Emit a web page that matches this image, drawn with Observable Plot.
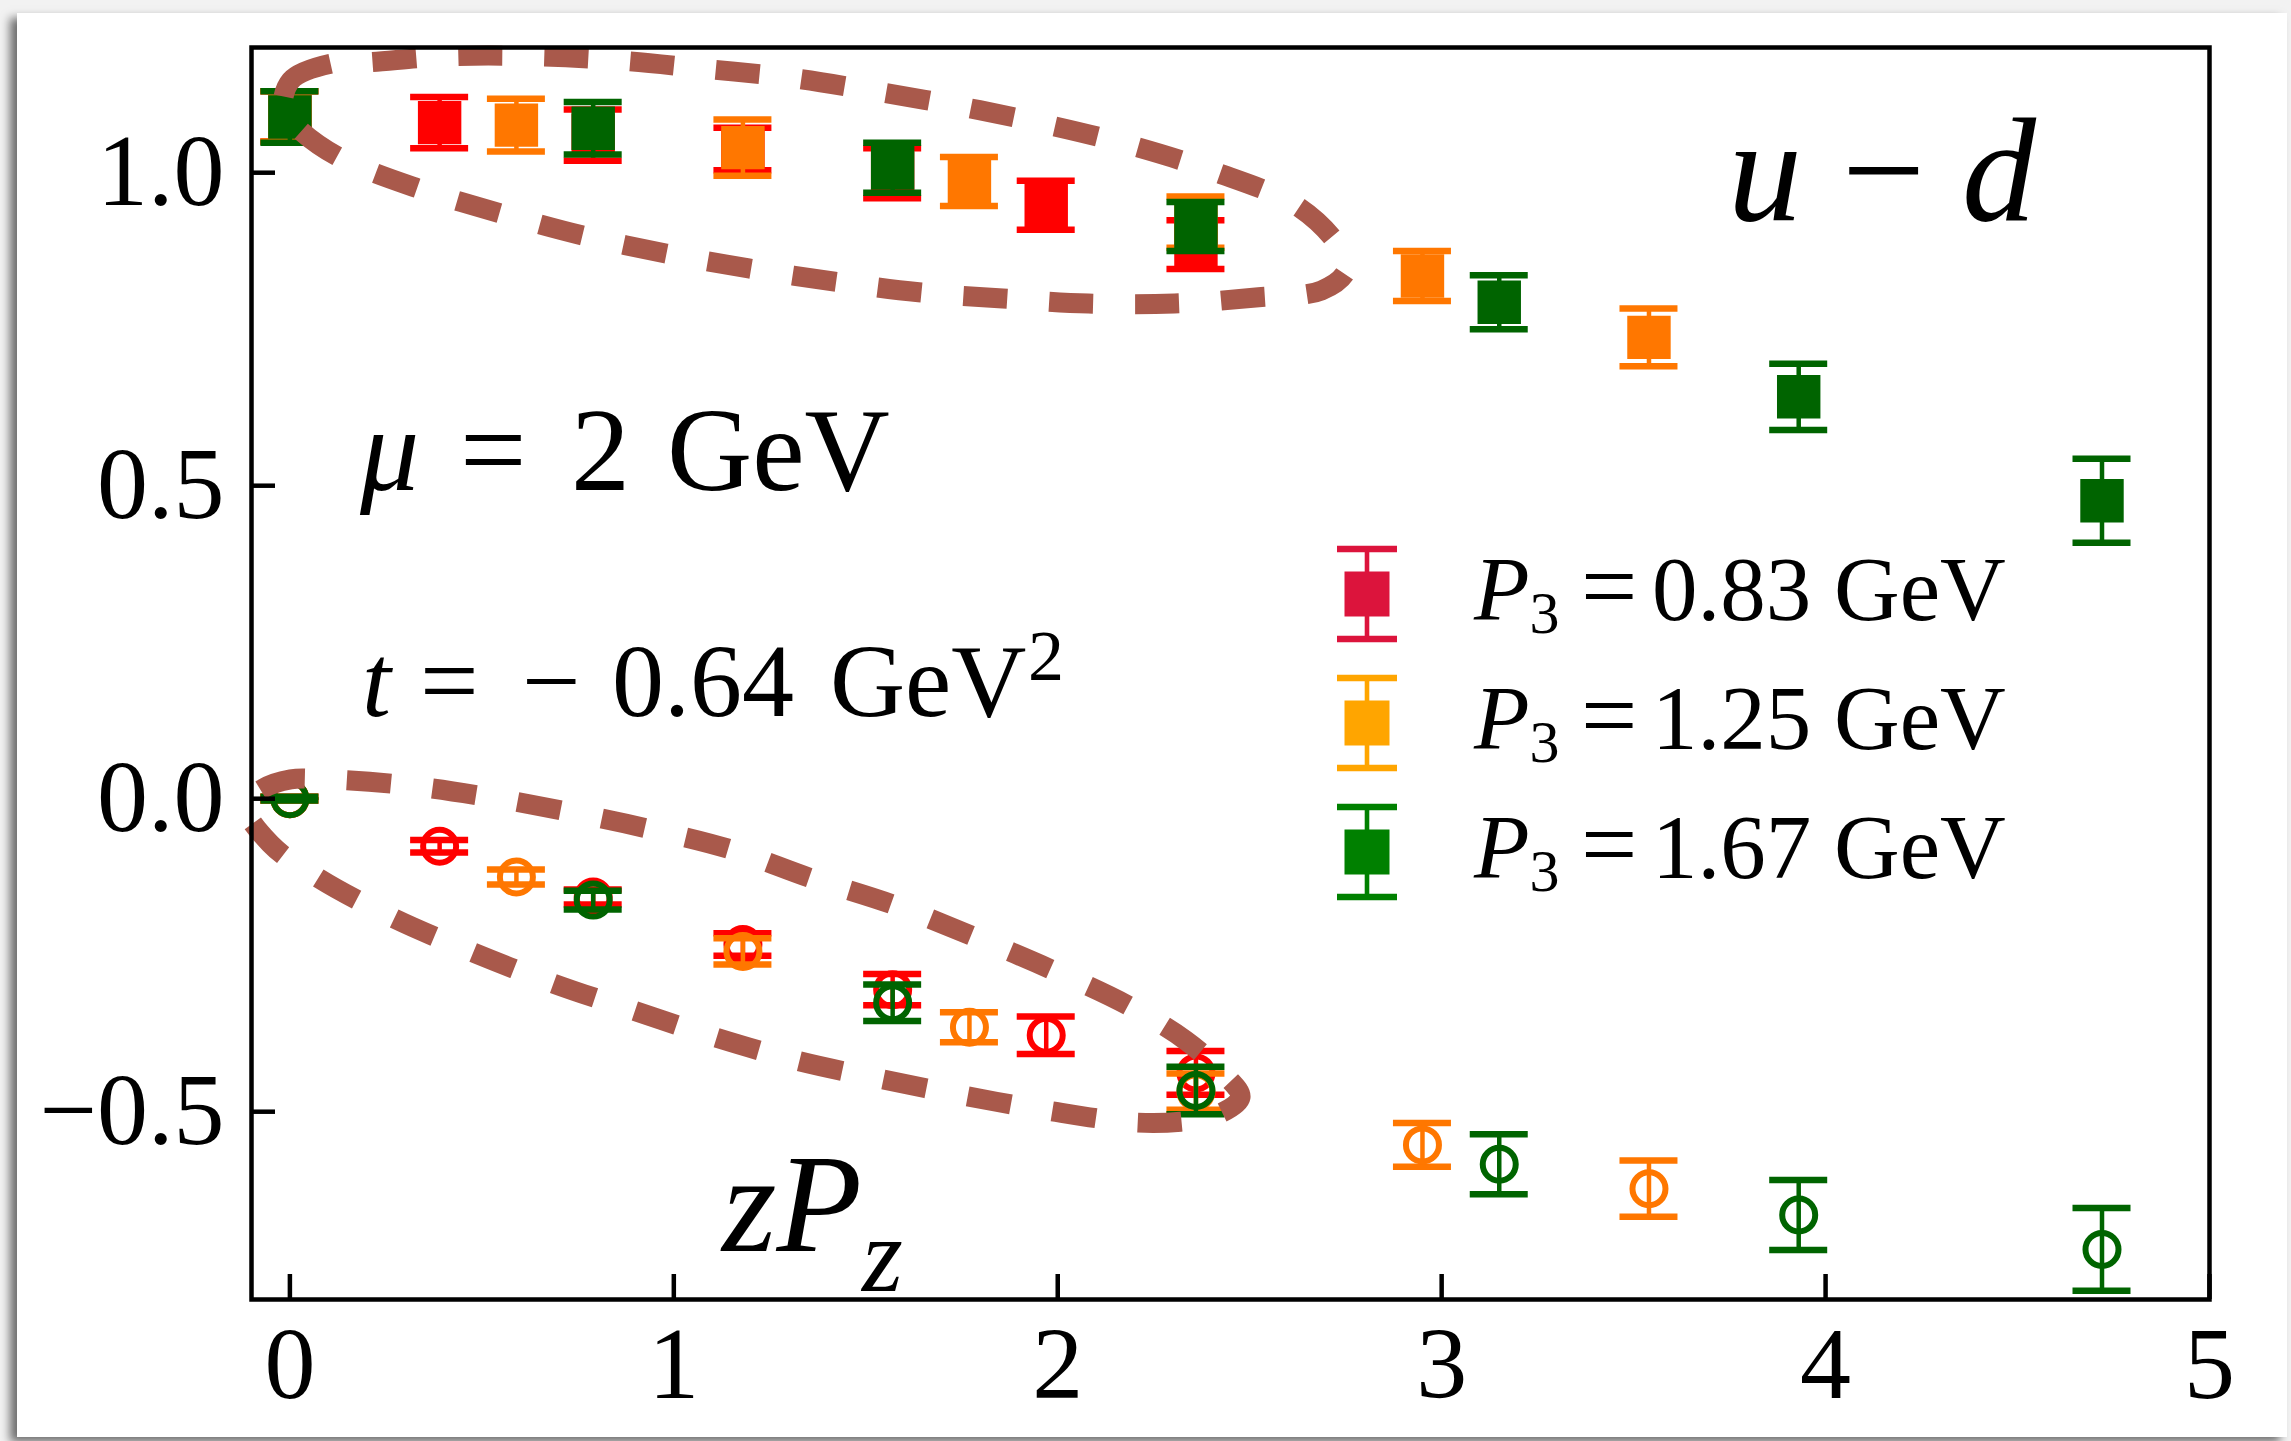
<!DOCTYPE html>
<html>
<head>
<meta charset="utf-8">
<script src="https://cdn.jsdelivr.net/npm/d3@7"></script>
<script src="https://cdn.jsdelivr.net/npm/@observablehq/plot@0.6"></script>
<style>
  html, body { margin: 0; padding: 0; width: 2291px; height: 1441px; overflow: hidden; background: #f2f2f2; }
  #card { position: absolute; left: 17px; top: 13px; width: 2270px; height: 1424px; background: #fff;
          box-shadow: -7px 5px 9px rgba(0,0,0,0.55); }
  #chart { position: absolute; left: 0; top: 0; }
</style>
</head>
<body>
<div id="card"></div>
<div id="chart"></div>
<script>
// zP_z positions per momentum
const xRed    = [0, 0.39, 0.79, 1.18, 1.57, 1.97, 2.36];
const xOrange = [0, 0.59, 1.18, 1.77, 2.36, 2.95, 3.54];
const xGreen  = [0, 0.79, 1.57, 2.36, 3.15, 3.93, 4.72];

// upper branch (filled squares) and its errors
const yRedUpper    = [1.090, 1.080, 1.060, 1.038, 0.999, 0.948, 0.885];
const eRedUpper    = [0.040, 0.041, 0.041, 0.034, 0.040, 0.039, 0.039];
const yOrangeUpper = [1.090, 1.076, 1.040, 0.986, 0.921, 0.835, 0.737];
const eOrangeUpper = [0.040, 0.042, 0.045, 0.039, 0.041, 0.040, 0.046];
const yGreenUpper  = [1.089, 1.071, 1.008, 0.914, 0.793, 0.642, 0.476];
const eGreenUpper  = [0.041, 0.042, 0.040, 0.039, 0.043, 0.053, 0.067];

// lower branch (open circles) and its errors
const yRedLower    = [0.000, -0.076, -0.157, -0.233, -0.305, -0.378, -0.438];
const eRedLower    = [0.003, 0.010, 0.012, 0.018, 0.025, 0.030, 0.035];
const yOrangeLower = [0.000, -0.125, -0.244, -0.365, -0.468, -0.553, -0.623];
const eOrangeLower = [0.003, 0.012, 0.021, 0.024, 0.029, 0.035, 0.045];
const yGreenLower  = [0.000, -0.162, -0.326, -0.466, -0.584, -0.665, -0.720];
const eGreenLower  = [0.003, 0.015, 0.029, 0.038, 0.048, 0.056, 0.066];

const momentumLabels = ["0.83", "1.25", "1.67"];
const xTicks = [0, 1, 2, 3, 4, 5];
const yTicks = [-0.5, 0, 0.5, 1.0];

// hand-drawn loops around the small-zP_z points
const upperLoop = [
  [-0.017, 1.099], [0.002, 1.147], [0.106, 1.174], [0.194, 1.176], [0.416, 1.186], [0.637, 1.186],
  [0.862, 1.179], [1.081, 1.166], [1.300, 1.152], [1.516, 1.131], [1.737, 1.107], [1.956, 1.079],
  [2.170, 1.047], [2.406, 1.002], [2.630, 0.944], [2.739, 0.876], [2.752, 0.844], [2.687, 0.812],
  [2.523, 0.801], [2.304, 0.791], [2.080, 0.791], [1.857, 0.799], [1.638, 0.809], [1.419, 0.826],
  [1.195, 0.847], [0.979, 0.871], [0.760, 0.900], [0.549, 0.935], [0.333, 0.975], [0.130, 1.024],
  [0.028, 1.067]
];
const lowerLoop = [
  [-0.116, -0.011], [-0.071, 0.016], [0.002, 0.031], [0.062, 0.032], [0.280, 0.023], [0.504, 0.004],
  [0.718, -0.020], [0.934, -0.048], [1.148, -0.081], [1.357, -0.127], [1.570, -0.169], [1.776, -0.219],
  [1.984, -0.273], [2.182, -0.330], [2.333, -0.386], [2.437, -0.442], [2.476, -0.477], [2.411, -0.506],
  [2.320, -0.516], [2.195, -0.517], [1.971, -0.498], [1.752, -0.474], [1.533, -0.447], [1.317, -0.418],
  [1.101, -0.380], [0.893, -0.338], [0.685, -0.295], [0.479, -0.246], [0.267, -0.190], [0.072, -0.126],
  [-0.051, -0.072]
];

const series = [
  {x: xRed,    yu: yRedUpper,    eu: eRedUpper,    yl: yRedLower,    el: eRedLower,    color: "#ff0000", key: "#dc143c"},
  {x: xOrange, yu: yOrangeUpper, eu: eOrangeUpper, yl: yOrangeLower, el: eOrangeLower, color: "#ff7700", key: "#ffa500"},
  {x: xGreen,  yu: yGreenUpper,  eu: eGreenUpper,  yl: yGreenLower,  el: eGreenLower,  color: "#006400", key: "#008000"}
];

const W = 2291, H = 1441;
const M = {left: 251, right: 82, top: 47, bottom: 142};
const frameW = W - M.left - M.right, frameH = H - M.top - M.bottom;
const serif = "'Liberation Serif', 'DejaVu Serif', serif";

const marks = [];
for (const s of series) {
  const up = s.x.map((x, i) => ({x, y: s.yu[i], e: s.eu[i]}));
  const lo = s.x.map((x, i) => ({x, y: s.yl[i], e: s.el[i]}));
  for (const [rows, filled] of [[up, true], [lo, false]]) {
    marks.push(Plot.ruleX(rows, {x: "x", y1: d => d.y - d.e, y2: d => d.y + d.e, stroke: s.color, strokeWidth: 4.5}));
    for (const sign of [-1, 1]) {
      marks.push(Plot.ruleY(rows, {y: d => d.y + sign * d.e, x1: "x", x2: "x", insetLeft: -29, insetRight: -29,
                                    stroke: s.color, strokeWidth: 6.5}));
    }
    marks.push(filled
      ? Plot.dot(rows, {x: "x", y: "y", symbol: "square", r: 24.5, fill: s.color, stroke: "none"})
      : Plot.dot(rows, {x: "x", y: "y", r: 16.5, fill: "none", stroke: s.color, strokeWidth: 6}));
  }
}

const loopStyle = {x: d => d[0], y: d => d[1], curve: "catmull-rom-closed", stroke: "#a9594b",
                   strokeWidth: 20, strokeDasharray: "44,42", strokeLinecap: "butt"};

const svg = Plot.plot({
  width: W, height: H,
  marginLeft: M.left, marginRight: M.right, marginTop: M.top, marginBottom: M.bottom,
  style: {fontFamily: serif, color: "#000", background: "transparent", overflow: "visible"},
  x: {domain: [-0.1, 5]},
  y: {domain: [-0.8, 1.2]},
  marks: [
    ...marks,
    Plot.line(upperLoop, loopStyle),
    Plot.line(lowerLoop, loopStyle),
    Plot.tickY(yTicks, {y: d => d, insetRight: frameW - 24, stroke: "#000", strokeWidth: 4.5}),
    Plot.tickX(xTicks, {x: d => d, insetTop: frameH - 25, stroke: "#000", strokeWidth: 4.5}),
    Plot.axisX({ticks: xTicks, tickSize: 0, tickPadding: 26, tickFormat: "d", fontSize: 102, label: null}),
    Plot.axisY({ticks: yTicks, tickSize: 0, tickPadding: 27, tickFormat: d3.format(".1f"), fontSize: 102, label: null}),
    Plot.frame({stroke: "#000", strokeWidth: 4.5})
  ]
});
document.getElementById("chart").appendChild(svg);

// rich-text annotations and the legend
const g = d3.select(svg).append("g")
  .attr("font-family", serif).attr("fill", "#000").attr("text-anchor", "start");

function addText(x, y, size, parts) {
  const t = g.append("text").attr("x", x).attr("y", y).attr("font-size", size);
  for (const p of parts) {
    const ts = t.append("tspan").text(p.t);
    if (p.italic) ts.attr("font-style", "italic");
    if (p.x != null) ts.attr("x", p.x);
    if (p.dy != null) ts.attr("dy", p.dy);
    if (p.size != null) ts.attr("font-size", p.size);
  }
}

addText(1728, 220, 148, [{t: "u", italic: true}, {t: "\u2212", x: 1842}, {t: "d", italic: true, x: 1962}]);
addText(360, 490, 118, [{t: "\u03bc", italic: true}, {t: "=", x: 460}, {t: "2", x: 571}, {t: "GeV", x: 667}]);
addText(362, 716, 104, [{t: "t", italic: true}, {t: "=", x: 420}, {t: "\u2212", x: 522}, {t: "0.64", x: 612},
                        {t: "GeV", x: 830}, {t: "2", x: 1028, dy: -36, size: 72}]);
addText(722, 1251, 140, [{t: "z", italic: true}, {t: "P", italic: true}, {t: "z", italic: true, dy: 40, size: 105}]);

const legendX = 1367, legendY0 = 594, legendStep = 129;
series.forEach((s, i) => {
  const cy = legendY0 + i * legendStep;
  const k = g.append("g").attr("stroke", s.key);
  k.append("line").attr("x1", legendX).attr("x2", legendX).attr("y1", cy - 45).attr("y2", cy + 45).attr("stroke-width", 4.6);
  for (const dy of [-45, 45]) {
    k.append("line").attr("x1", legendX - 30).attr("x2", legendX + 30).attr("y1", cy + dy).attr("y2", cy + dy).attr("stroke-width", 6.5);
  }
  k.append("rect").attr("x", legendX - 22.5).attr("y", cy - 22.5).attr("width", 45).attr("height", 45)
    .attr("fill", s.key).attr("stroke", "none");
  addText(1474, cy + 26, 91, [{t: "P", italic: true}, {t: "3", dy: 13, size: 60},
                              {t: "=", x: 1581, dy: -13, size: 100},
                              {t: momentumLabels[i] + " GeV", x: 1652}]);
});
</script>
</body>
</html>
